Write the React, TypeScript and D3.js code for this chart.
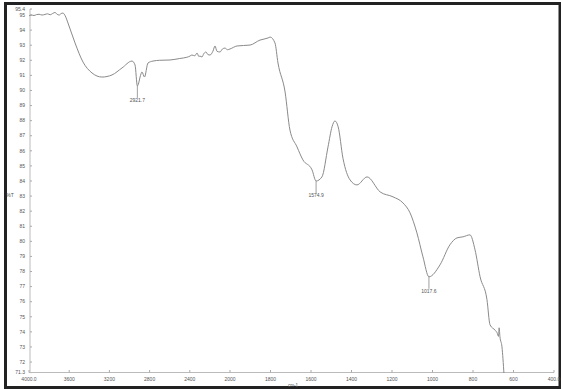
import { useEffect, useRef } from "react";
import * as d3 from "d3";

// IR spectrum, %T against wavenumber (cm-1), scale doubles below 2000
const wavenumber = [
  3999, 3975, 3950, 3925, 3900, 3870, 3841, 3815, 3790, 3760, 3741, 3720, 3700, 3680, 3662, 3640, 3612,
  3542, 3463, 3373, 3274, 3174, 3075, 2975, 2945, 2921.7, 2886, 2876, 2851, 2816, 2766, 2700, 2597,
  2500, 2430, 2398, 2380, 2350, 2328, 2310, 2299, 2279, 2260, 2239, 2220, 2199, 2170, 2149, 2130,
  2100, 2075, 2050, 2025, 2000, 1965, 1901, 1852, 1812, 1802, 1778, 1763, 1728, 1704, 1669, 1640,
  1595, 1574.9, 1546, 1516, 1496, 1482, 1466, 1442, 1407, 1373, 1323, 1259, 1195, 1146, 1111, 1077, 1047,
  1017.6, 963, 914, 879, 849, 815, 790, 765, 731, 716, 690, 681, 674, 671, 667, 657, 647,
];
const transmittance = [
  94.95, 95.0, 94.97, 95.03, 95.05, 95.0, 95.04, 95.08, 95.02, 95.12, 95.17, 95.05, 95.0, 95.1, 95.13, 94.95, 94.47,
  93.15, 91.89, 91.16, 90.89, 91.03, 91.49, 91.95, 91.69, 90.3, 91.09, 91.23, 90.89, 91.82, 91.95, 92.0, 92.02,
  92.12, 92.2, 92.28, 92.35, 92.3, 92.48, 92.25, 92.28, 92.22, 92.45, 92.55, 92.38, 92.35, 92.6, 92.95, 92.6,
  92.55, 92.75, 92.81, 92.7, 92.75, 92.95, 93.01, 93.34, 93.48, 93.54, 93.15, 91.82, 89.9, 87.38, 86.26, 85.4,
  84.74, 84.0, 84.27, 86.26, 87.6, 87.98, 87.6, 85.5, 84.07, 83.74, 84.27, 83.28, 82.95, 82.55, 81.89, 80.56, 78.97,
  77.65, 78.44, 79.77, 80.23, 80.3, 80.43, 79.44, 77.65, 76.13, 74.47, 74.1, 73.94, 73.7, 74.27, 73.68, 73.01, 71.2,
];

const peakWn = [2921.7, 1574.9, 1017.6];
const peakLabels = ["2921.7", "1574.9", "1017.6"];

const xTicks = [4000, 3600, 3200, 2800, 2400, 2000, 1800, 1600, 1400, 1200, 1000, 800, 600, 400];
const yTicks = [95.4, 95, 94, 93, 92, 91, 90, 89, 88, 87, 86, 85, 84, 83, 82, 81, 80, 79, 78, 77, 76, 75, 74, 73, 72, 71.3];

const W = 561;
const H = 390;

export default function App() {
  const svgRef = useRef<SVGSVGElement | null>(null);

  useEffect(() => {
    const svg = d3.select(svgRef.current);
    svg.selectAll("*").remove();

    const x = d3.scaleLinear().domain([4000, 2000, 400]).range([29, 230, 554]);
    const y = d3.scaleLinear().domain([71.3, 95.4]).range([372.6, 9]);
    const font = "'Liberation Sans', Arial, sans-serif";
    const ink = "#555";

    svg.append("rect").attr("width", W).attr("height", H).attr("fill", "#fff");

    // frame
    svg.append("rect")
      .attr("x", 5.5).attr("y", 3.5).attr("width", 554.5).attr("height", 384)
      .attr("fill", "none").attr("stroke", "#222").attr("stroke-width", 3);

    const clip = svg.append("defs").append("clipPath").attr("id", "plot");
    clip.append("rect").attr("x", 29).attr("y", 5).attr("width", 526).attr("height", 368);

    // y axis
    svg.append("line")
      .attr("x1", 30).attr("x2", 30).attr("y1", y(95.4)).attr("y2", y(71.3))
      .attr("stroke", "#bbb").attr("stroke-width", 1);
    const yt = svg.append("g").selectAll("g").data(yTicks).enter().append("g")
      .attr("transform", d => `translate(0,${y(d)})`);
    yt.append("line").attr("x1", 30).attr("x2", 32).attr("stroke", "#aaa");
    yt.append("text")
      .attr("x", 25).attr("dy", "0.35em").attr("text-anchor", "end")
      .attr("font-family", font).attr("font-size", 5).attr("fill", ink)
      .text(d => (d === 95.4 || d === 71.3 ? d.toFixed(1) : String(d)));

    // x axis
    svg.append("line")
      .attr("x1", 29).attr("x2", 554).attr("y1", 372.5).attr("y2", 372.5)
      .attr("stroke", "#bbb").attr("stroke-width", 1);
    const xt = svg.append("g").selectAll("g").data(xTicks).enter().append("g")
      .attr("transform", d => `translate(${x(d)},0)`);
    xt.append("line").attr("y1", 370).attr("y2", 372.5).attr("stroke", "#aaa");
    xt.append("text")
      .attr("y", 381).attr("text-anchor", "middle")
      .attr("font-family", font).attr("font-size", 5).attr("fill", ink)
      .text(d => (d === 4000 || d === 400 ? d.toFixed(1) : String(d)));

    svg.append("text")
      .attr("x", 293).attr("y", 386.5).attr("text-anchor", "middle")
      .attr("font-family", font).attr("font-size", 4.5).attr("fill", ink)
      .text("cm-1");
    svg.append("text")
      .attr("x", 10).attr("y", 197).attr("text-anchor", "middle")
      .attr("font-family", font).attr("font-size", 5).attr("fill", ink)
      .text("%T");

    // spectrum
    const pts = wavenumber.map((w, i) => [w, transmittance[i]] as [number, number]);
    const line = d3.line<[number, number]>()
      .x(d => x(d[0]))
      .y(d => y(d[1]))
      .curve(d3.curveMonotoneX);
    svg.append("path")
      .datum(pts)
      .attr("clip-path", "url(#plot)")
      .attr("d", line)
      .attr("fill", "none")
      .attr("stroke", "#8a8a8a")
      .attr("stroke-width", 1);

    // peak markers
    peakWn.forEach((w, i) => {
      const t = transmittance[wavenumber.indexOf(w)];
      const px = x(w);
      const py = y(t);
      svg.append("line")
        .attr("x1", px).attr("x2", px).attr("y1", py).attr("y2", py + 12)
        .attr("stroke", "#888").attr("stroke-width", 0.8);
      svg.append("text")
        .attr("x", px).attr("y", py + 16).attr("text-anchor", "middle")
        .attr("font-family", font).attr("font-size", 5).attr("fill", ink)
        .text(peakLabels[i]);
    });
  }, []);

  return (
    <svg
      ref={svgRef}
      width={W}
      height={H}
      style={{ position: "absolute", left: 0, top: 0 }}
    />
  );
}
